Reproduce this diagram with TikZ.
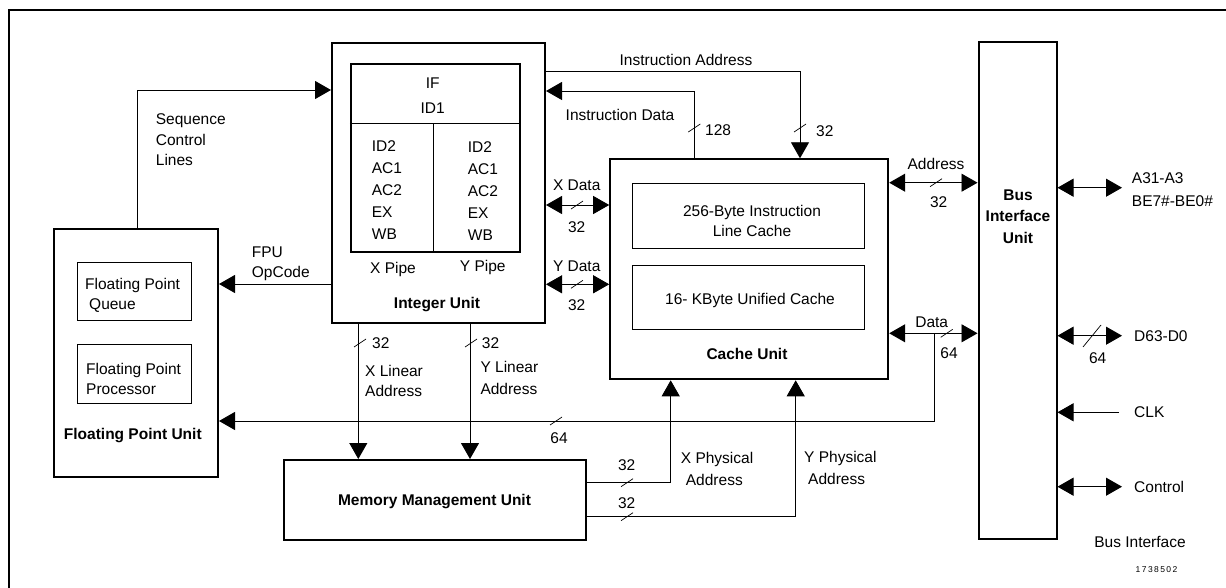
\documentclass[tikz,border=0pt]{standalone}
\usepackage{fontspec}
\setmainfont{Liberation Sans}
\usetikzlibrary{arrows.meta}

\tikzset{
  unit/.style={draw, line width=2pt, inner sep=0pt},
  subbox/.style={draw, line width=1pt, inner sep=0pt},
  lbl/.style={inner sep=0pt, align=left},
  title/.style={inner sep=0pt, align=center, font=\fontsize{15.5}{21.7}\selectfont\bfseries},
  conn/.style={line width=0.9pt},
  arr/.style={conn, -{Triangle[length=16pt,width=18pt]}},
  dbl/.style={conn, {Triangle[length=16pt,width=18pt]}-{Triangle[length=16pt,width=18pt]}},
  buswd/.style={line width=0.7pt}
}
\newcommand{\busmark}[2]{\draw[buswd] (#1-6,#2+4) -- (#1+6,#2-4);}

\begin{document}
\begin{tikzpicture}[x=1pt, y=-1pt, font=\fontsize{15.5}{21}\selectfont]
\useasboundingbox (0,0) rectangle (1226,588);
\draw[line width=2pt] (9,588) -- (9,10) -- (1226,10);

% units
\node[unit, minimum width=213pt, minimum height=280pt] (iu) at (438.5,183) {};
\node[unit, minimum width=169pt, minimum height=187pt] (pipe) at (435.4,158) {};
\node[unit, minimum width=164pt, minimum height=248pt] (fpu) at (136,353) {};
\node[subbox, minimum width=114pt, minimum height=58pt] (fpq) at (134.7,291.9) {};
\node[subbox, minimum width=114pt, minimum height=59pt] (fpp) at (134.7,373.8) {};
\node[unit, minimum width=302pt, minimum height=80pt] (mmu) at (434.5,500) {};
\node[unit, minimum width=278pt, minimum height=220pt] (cu) at (749.2,269.3) {};
\node[subbox, minimum width=232pt, minimum height=65pt] (ilc) at (748.9,215.8) {};
\node[subbox, minimum width=232pt, minimum height=64pt] (uc) at (748.8,297.9) {};
\node[unit, minimum width=78pt, minimum height=497pt] (biu) at (1017.5,290.7) {};

% pipeline split
\coordinate (pdiv) at (433.3,123.3);
\draw[line width=1pt] (pipe.west |- pdiv) -- (pipe.east |- pdiv);
\draw[line width=1pt] (pdiv) -- (pipe.south -| pdiv);

% texts in the units
\node[lbl, align=center, font=\fontsize{15.5}{25}\selectfont] (ifid) at (432.7,95.8) {IF\\ID1};
\node[lbl, anchor=west, font=\fontsize{15.5}{22.1}\selectfont] (xstages) at (371.7,190) {ID2\\AC1\\AC2\\EX\\WB};
\node[lbl, anchor=west, font=\fontsize{15.5}{22.1}\selectfont] (ystages) at (467.7,191) {ID2\\AC1\\AC2\\EX\\WB};
\node[lbl] (xpipe) at (393,269) {X Pipe};
\node[lbl] (ypipe) at (482.7,267.7) {Y Pipe};
\node[title] (iutxt) at (437,305) {Integer Unit};

\node[lbl, anchor=west, font=\fontsize{15.5}{20}\selectfont] (fpqtxt) at (85,295) {Floating Point\\\hspace*{4pt}Queue};
\node[lbl, anchor=west, font=\fontsize{15.5}{20}\selectfont] (fpptxt) at (86,379) {Floating Point\\Processor};
\node[title] (fputxt) at (132.8,435.7) {Floating Point Unit};
\node[title] (mmutxt) at (434.5,501.7) {Memory Management Unit};

\node[lbl, align=center, font=\fontsize{15.5}{20.3}\selectfont] (ilctxt) at (752,221) {256-Byte Instruction\\Line Cache};
\node[lbl] (uctxt) at (750,300) {16- KByte Unified Cache};
\node[title] (cutxt) at (747,354) {Cache Unit};
\node[title] (biutxt) at (1018,216.7) {Bus\\Interface\\Unit};

% sequence control / opcode
\coordinate (seq) at (137,90);
\draw[arr] (fpu.north -| seq) -- (seq) -- (iu.west |- seq);
\node[lbl, anchor=west, font=\fontsize{15.5}{20.5}\selectfont] (seqlbl) at (155.7,139.7) {Sequence\\Control\\Lines};
\coordinate (opc) at (0,284);
\draw[arr] (iu.west |- opc) -- (fpu.east |- opc);
\node[lbl, anchor=west, font=\fontsize{15.5}{20}\selectfont] (opclbl) at (251.7,264) {FPU\\OpCode};

% instruction address / data
\coordinate (iadr) at (800,71.7);
\draw[arr] (iu.east |- iadr) -- (iadr) -- (cu.north -| iadr);
\node[lbl] (iadrlbl) at (686,60) {Instruction Address};
\busmark{800}{128}
\node[lbl, anchor=west] (iadrw) at (816,130.7) {32};
\coordinate (idat) at (694.3,91);
\draw[arr] (cu.north -| idat) -- (idat) -- (iu.east |- idat);
\node[lbl] (idatlbl) at (620,115) {Instruction Data};
\busmark{694.3}{128}
\node[lbl, anchor=west] (idatw) at (705,130) {128};

% x / y data
\coordinate (xd) at (0,205);
\draw[dbl] (iu.east |- xd) -- (cu.west |- xd);
\busmark{577}{205}
\node[lbl] (xdlbl) at (576.7,185.7) {X Data};
\node[lbl] (xdw) at (576.7,226.7) {32};
\coordinate (yd) at (0,284.3);
\draw[dbl] (iu.east |- yd) -- (cu.west |- yd);
\busmark{577}{284.3}
\node[lbl] (ydlbl) at (576.7,266) {Y Data};
\node[lbl] (ydw) at (576.7,305) {32};

% cache to bus unit
\coordinate (adr) at (0,182.7);
\draw[dbl] (cu.east |- adr) -- (biu.west |- adr);
\busmark{936}{182.7}
\node[lbl] (adrlbl) at (936,164.3) {Address};
\node[lbl] (adrw) at (938.7,202.3) {32};
\coordinate (dtap) at (934.3,333.3);
\draw[dbl] (cu.east |- dtap) -- (biu.west |- dtap);
\busmark{946.7}{333.3}
\node[lbl] (dlbl) at (931.7,322.3) {Data};
\node[lbl] (dw) at (949,352.7) {64};
\coordinate (dbend) at (934.3,421);
\draw[arr] (dtap) -- (dbend) -- (fpu.east |- dbend);
\busmark{556}{421}
\node[lbl] (fpdw) at (559,437.7) {64};

% external bus
\coordinate (aext) at (1122,187.7);
\draw[dbl] (biu.east |- aext) -- (aext);
\node[lbl, anchor=west, font=\fontsize{15.5}{22.7}\selectfont] (alabel) at (1131.7,189.7) {A31-A3\\BE7\#-BE0\#};
\coordinate (dext) at (1122,335.7);
\draw[dbl] (biu.east |- dext) -- (dext);
\draw[buswd] (1083,347) -- (1101,325);
\node[lbl] (dextw) at (1097.7,357.7) {64};
\node[lbl, anchor=west] (dlabel) at (1134,335.7) {D63-D0};
\coordinate (clk) at (1119,412.3);
\draw[arr] (clk) -- (biu.east |- clk);
\node[lbl, anchor=west] (clklabel) at (1134,412.3) {CLK};
\coordinate (ctl) at (1122,486.7);
\draw[dbl] (biu.east |- ctl) -- (ctl);
\node[lbl, anchor=west] (ctllabel) at (1134,486.7) {Control};
\node[lbl] (buslbl) at (1140,541.7) {Bus Interface};
\node[lbl, font=\fontsize{8.5}{10}\selectfont] (fignum) at (1156.5,570) {1\,7\,3\,8\,5\,0\,2};

% linear addresses
\coordinate (xla) at (358.3,0);
\draw[arr] (iu.south -| xla) -- (mmu.north -| xla);
\busmark{360}{343}
\node[lbl, anchor=west] (xlaw) at (372,343) {32};
\node[lbl, anchor=west, font=\fontsize{15.5}{20.3}\selectfont] (xlalbl) at (365,381) {X Linear\\Address};
\coordinate (yla) at (470,0);
\draw[arr] (iu.south -| yla) -- (mmu.north -| yla);
\busmark{471}{343}
\node[lbl, anchor=west] (ylaw) at (481.7,343) {32};
\node[lbl, anchor=west, font=\fontsize{15.5}{22.3}\selectfont] (ylalbl) at (480.3,377.8) {Y Linear\\Address};

% physical addresses
\coordinate (xpa) at (670.7,482.7);
\draw[arr] (mmu.east |- xpa) -- (xpa) -- (cu.south -| xpa);
\busmark{627}{482.7}
\node[lbl] (xpaw) at (626.7,465) {32};
\node[lbl, anchor=west, font=\fontsize{15.5}{22.6}\selectfont] (xpalbl) at (680.7,469) {X Physical\\\hspace*{5pt}Address};
\coordinate (ypa) at (795.7,516.7);
\draw[arr] (mmu.east |- ypa) -- (ypa) -- (cu.south -| ypa);
\busmark{627}{516.7}
\node[lbl] (ypaw) at (626.7,503.3) {32};
\node[lbl, anchor=west, font=\fontsize{15.5}{22.3}\selectfont] (ypalbl) at (804,467.8) {Y Physical\\\hspace*{4pt}Address};

\end{tikzpicture}
\end{document}
